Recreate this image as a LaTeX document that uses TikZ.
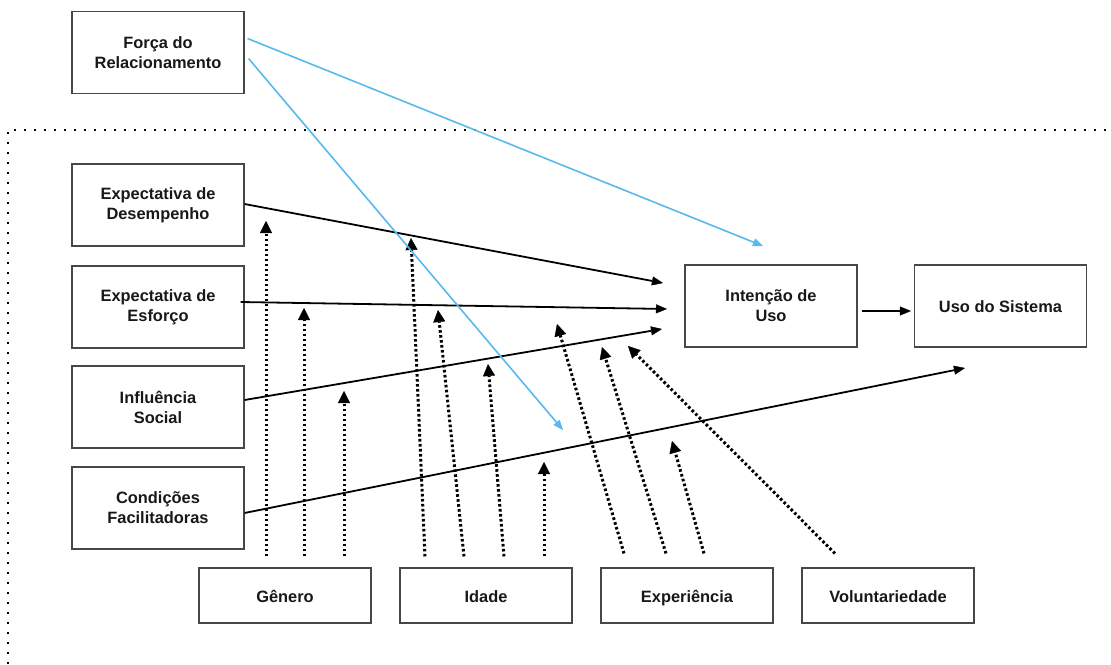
\documentclass[tikz,border=0pt]{standalone}
\usepackage{fontspec}
\setmainfont{Liberation Sans}
\usetikzlibrary{arrows.meta}
\definecolor{lineblue}{RGB}{88,186,236}
\definecolor{txt}{RGB}{24,24,24}
\tikzset{
  box/.style={draw=black!72, line width=1.1pt, minimum width=172pt, minimum height=82pt,
    align=center, font=\fontsize{16.4}{20}\selectfont\bfseries, text=txt, inner sep=2pt},
  oneline/.style={box, text height=15pt, text depth=1.5pt},
  smallbox/.style={oneline, minimum height=55pt},
  solidarrow/.style={line width=1.8pt, black, -{Triangle[length=11pt,width=9pt,line width=0.4pt]}},
  bluearrow/.style={line width=1.6pt, lineblue, -{Triangle[length=10pt,width=8pt,line width=0.4pt]}},
  modarrow/.style={line width=3pt, black, dash pattern=on 2.6pt off 2.4pt,
    -{Triangle[length=12pt,width=12pt,line width=0.4pt]}},
  frame/.style={line width=2.4pt, black, dash pattern=on 2.4pt off 7.6pt}
}
\begin{document}
\begin{tikzpicture}[x=1pt,y=-1pt]
\useasboundingbox (0,0) rectangle (1111,664);
\fill[white] (0,0) rectangle (1111,664);

% dotted frame
\coordinate (fb) at (8,664);
\coordinate (fc) at (8,130);
\coordinate (fr2) at (1111,130);
\draw[frame] (fb) -- (fc) -- (fr2);

% nodes
\node[box] (fr) at (158,52.5) {Força do\\Relacionamento};
\node[box] (ed) at (158,205) {Expectativa de\\Desempenho};
\node[box] (es) at (158,307) {Expectativa de\\Esforço};
\node[box] (is) at (158,407) {Influência\\Social};
\node[box] (cf) at (158,508) {Condições\\Facilitadoras};
\node[box] (iu) at (771,306) {Intenção de\\Uso};
\node[oneline] (us) at (1000.5,306) {Uso do Sistema};
\node[smallbox] (ge) at (285,595.5) {Gênero};
\node[smallbox] (id) at (486,595.5) {Idade};
\node[smallbox] (ex) at (687,595.5) {Experiência};
\node[smallbox] (vo) at (888,595.5) {Voluntariedade};

% tip coordinates
\coordinate (tED) at (663,283);
\coordinate (tES) at (667,309);
\coordinate (tIS) at (662,329);
\coordinate (tCF) at (965,368);
\coordinate (tB1) at (763,246);
\coordinate (tB2) at (563,430);

\coordinate (g1) at (266,221);
\coordinate (g2) at (304,308);
\coordinate (g3) at (344,391);
\coordinate (i1) at (411,238);
\coordinate (i2) at (438,310);
\coordinate (i3) at (488,364);
\coordinate (i4) at (544,462);
\coordinate (e1) at (557,324);
\coordinate (e2) at (602,347);
\coordinate (e3) at (672,441);
\coordinate (v1) at (628,346);

% moderator arrows
\draw[modarrow] ([xshift=-19pt,yshift=11pt]ge.north) -- (g1);
\draw[modarrow] ([xshift=19pt,yshift=11pt]ge.north) -- (g2);
\draw[modarrow] ([xshift=59pt,yshift=11pt]ge.north) -- (g3);
\draw[modarrow] ([xshift=-61pt,yshift=11pt]id.north) -- (i1);
\draw[modarrow] ([xshift=-22pt,yshift=11pt]id.north) -- (i2);
\draw[modarrow] ([xshift=18pt,yshift=11pt]id.north) -- (i3);
\draw[modarrow] ([xshift=58pt,yshift=11pt]id.north) -- (i4);
\draw[modarrow] ([xshift=-63pt,yshift=14pt]ex.north) -- (e1);
\draw[modarrow] ([xshift=-21pt,yshift=14pt]ex.north) -- (e2);
\draw[modarrow] ([xshift=17pt,yshift=14pt]ex.north) -- (e3);
\draw[modarrow] ([xshift=-53pt,yshift=14pt]vo.north) -- (v1);

% main arrows
\draw[solidarrow] ([yshift=1pt]ed.east) -- (tED);
\draw[solidarrow] ([xshift=-4pt,yshift=5pt]es.east) -- (tES);
\draw[solidarrow] ([yshift=7pt]is.east) -- (tIS);
\draw[solidarrow] ([yshift=-5pt]cf.east) -- (tCF);
\draw[solidarrow] ([xshift=4pt,yshift=-5pt]iu.east) -- ([xshift=-3pt,yshift=-5pt]us.west);

% blue arrows
\draw[bluearrow] ([xshift=3pt,yshift=14pt]fr.east) -- (tB1);
\draw[bluearrow] ([xshift=4pt,yshift=-6pt]fr.east) -- (tB2);
\end{tikzpicture}
\end{document}
